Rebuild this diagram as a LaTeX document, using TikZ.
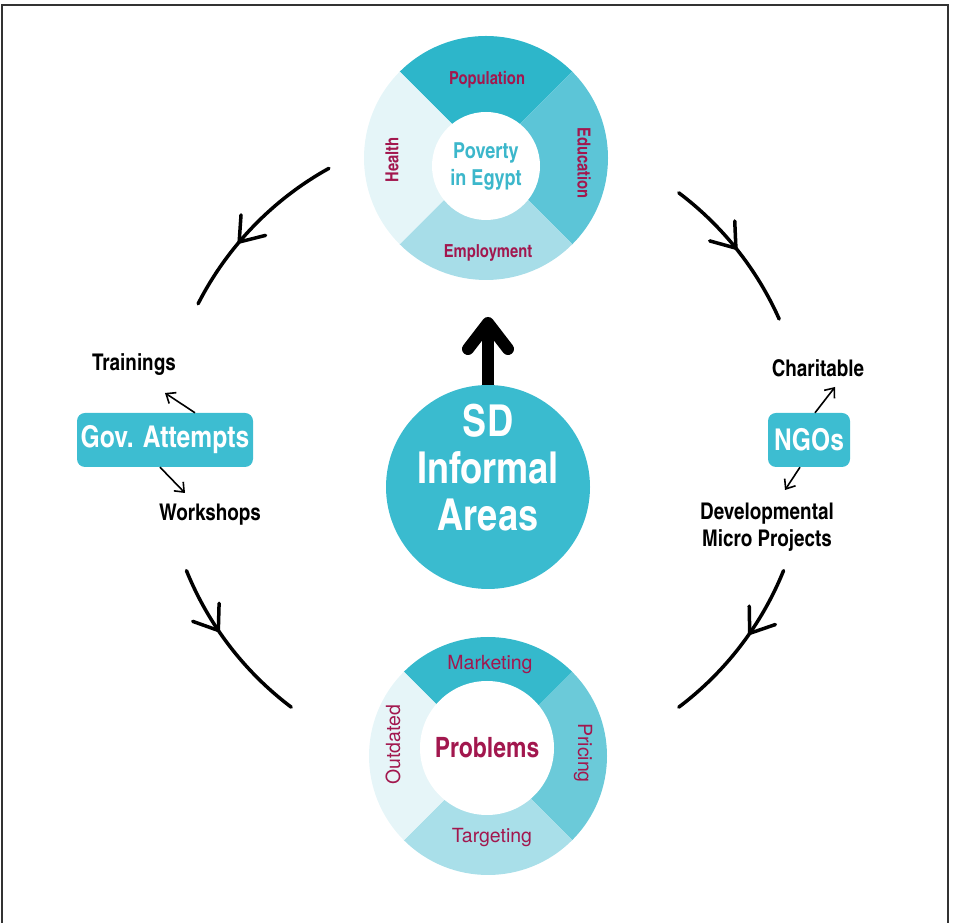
\documentclass[tikz,border=0pt]{standalone}
\usepackage{fontspec}
\setmainfont{TeX Gyre Heros}
\newfontfamily\cnbold{texgyreheroscn-bold.otf}
\usepackage{xcolor}
\usepackage{tikz}
\usetikzlibrary{arrows.meta,decorations.markings,calc,positioning}

\definecolor{povA}{HTML}{2DB6CA}
\definecolor{povB}{HTML}{5CC5D7}
\definecolor{povC}{HTML}{A7DDE8}
\definecolor{povD}{HTML}{E5F5F8}
\definecolor{probA}{HTML}{35B9CC}
\definecolor{probB}{HTML}{6BCAD9}
\definecolor{probC}{HTML}{A9DFE9}
\definecolor{probD}{HTML}{E6F5F8}
\definecolor{hubteal}{HTML}{3ABBCF}
\definecolor{boxteal}{HTML}{3DBDD1}
\definecolor{crimson}{HTML}{A2174E}
\definecolor{povtext}{HTML}{3CB7CB}
\definecolor{framegray}{HTML}{333333}

\tikzset{
    seglabel/.style={text=crimson, font=\cnbold\fontsize{18}{20}\selectfont, inner sep=0pt},
    problabel/.style={text=crimson, font=\fontsize{19.5}{22}\selectfont, inner sep=0pt},
    disk/.style={circle, fill=white, inner sep=0pt, align=center},
    panel/.style={fill=boxteal, rounded corners=8pt, text=white, inner sep=0pt,
        font=\cnbold\fontsize{30}{34}\selectfont, minimum height=54pt},
    side/.style={font=\cnbold\fontsize{23}{27}\selectfont, align=center, inner sep=0pt},
    link/.style={line width=1.6pt, -{Straight Barb[length=8pt,width=13pt]}},
    bigarrow/.style={line width=12pt, -{Straight Barb[length=26pt,width=40pt,round]}},
    orbit/.style={line width=3.5pt, line cap=round, postaction={decorate},
        decoration={markings, mark=at position #1 with
            {\arrow{Straight Barb[length=22pt,width=32pt,line width=3.5pt,round]}}}}
}

\begin{document}
\begin{tikzpicture}[x=1pt,y=1pt]
            \useasboundingbox (0,0) rectangle (953,923);
            \draw[framegray, line width=2pt] (2,0) -- (2,918) -- (948,918) -- (948,0);

            % poverty ring
            \coordinate (pov) at (486,765);
            \fill[povA] (pov) -- ++(45:122) arc[start angle=45, end angle=135, radius=122] -- cycle;
            \fill[povB] (pov) -- ++(-45:122) arc[start angle=-45, end angle=45, radius=122] -- cycle;
            \fill[povC] (pov) -- ++(225:122) arc[start angle=225, end angle=315, radius=122] -- cycle;
            \fill[povD] (pov) -- ++(135:122) arc[start angle=135, end angle=225, radius=122] -- cycle;
            \node[disk, minimum size=108pt, text=povtext, font=\cnbold\fontsize{22}{27}\selectfont]
                (povcore) at (486,757) {Poverty\\in Egypt};
            \node[seglabel] (population) at (487,843) {Population};
            \node[seglabel] (employment) at (488,670) {Employment};
            \node[seglabel, rotate=90] (health) at (392,763) {Health};
            \node[seglabel, rotate=-90] (education) at (584,760) {Education};

            % problems ring
            \coordinate (prob) at (488,167);
            \fill[probA] (prob) -- ++(45:119) arc[start angle=45, end angle=135, radius=119] -- cycle;
            \fill[probB] (prob) -- ++(-45:119) arc[start angle=-45, end angle=45, radius=119] -- cycle;
            \fill[probC] (prob) -- ++(225:119) arc[start angle=225, end angle=315, radius=119] -- cycle;
            \fill[probD] (prob) -- ++(135:119) arc[start angle=135, end angle=225, radius=119] -- cycle;
            \node[disk, minimum size=134pt, text=crimson, font=\cnbold\fontsize{28}{30}\selectfont]
                (probcore) at (487,175) {Problems};
            \node[problabel] (marketing) at (490,258) {Marketing};
            \node[problabel] (targeting) at (492,85) {Targeting};
            \node[problabel, rotate=90] (outdated) at (393,178) {Outdated};
            \node[problabel, rotate=-90] (pricing) at (583,170) {Pricing};

            % hub
            \node[circle, fill=hubteal, minimum size=204pt, inner sep=0pt] (hub) at (488,436) {};
            \node[text=white, align=center, font=\cnbold\fontsize{44}{47}\selectfont]
                (hubtext) at (488,455) {SD\\Informal\\Areas};
            \coordinate (hubtip) at (488,606);
            \draw[bigarrow] (hub) -- (hubtip);

            % government side
            \node[panel, minimum width=176pt] (gov) at (165,483) {Gov. Attempts};
            \node[side] (train) at (134,558) {Trainings};
            \node[side] (work) at (210,408) {Workshops};
            \draw[link] ([xshift=30pt]gov.north) -- ([shift={(31pt,-28pt)}]train.center);
            \draw[link] ([xshift=-5pt]gov.south) -- ([shift={(-25pt,22pt)}]work.center);

            % ngo side
            \node[panel, minimum width=82pt] (ngo) at (809,483) {NGOs};
            \node[side] (charity) at (818,555) {Charitable};
            \node[side] (devel) at (767,396) {Developmental\\Micro Projects};
            \draw[link] ([xshift=6pt]ngo.north) -- ([shift={(17pt,-19pt)}]charity.center);
            \draw[link] ([xshift=-9pt]ngo.south) -- ([shift={(18pt,37pt)}]devel.center);

            % cycle arcs
            \coordinate (ring) at (485,473);
            \coordinate (tlA) at ($(ring)+(119:322)$);
            \coordinate (blA) at ($(ring)+(202:322)$);
            \coordinate (trA) at ($(ring)+(53:322)$);
            \coordinate (brA) at ($(ring)+(-22:322)$);
            \draw[orbit=0.62] (tlA) arc[start angle=119, end angle=153, radius=322];
            \draw[orbit=0.4] (blA) arc[start angle=202, end angle=233, radius=322];
            \draw[orbit=0.5] (trA) arc[start angle=53, end angle=24, radius=322];
            \draw[orbit=0.42] (brA) arc[start angle=-22, end angle=-53, radius=322];
        \end{tikzpicture}
\end{document}
